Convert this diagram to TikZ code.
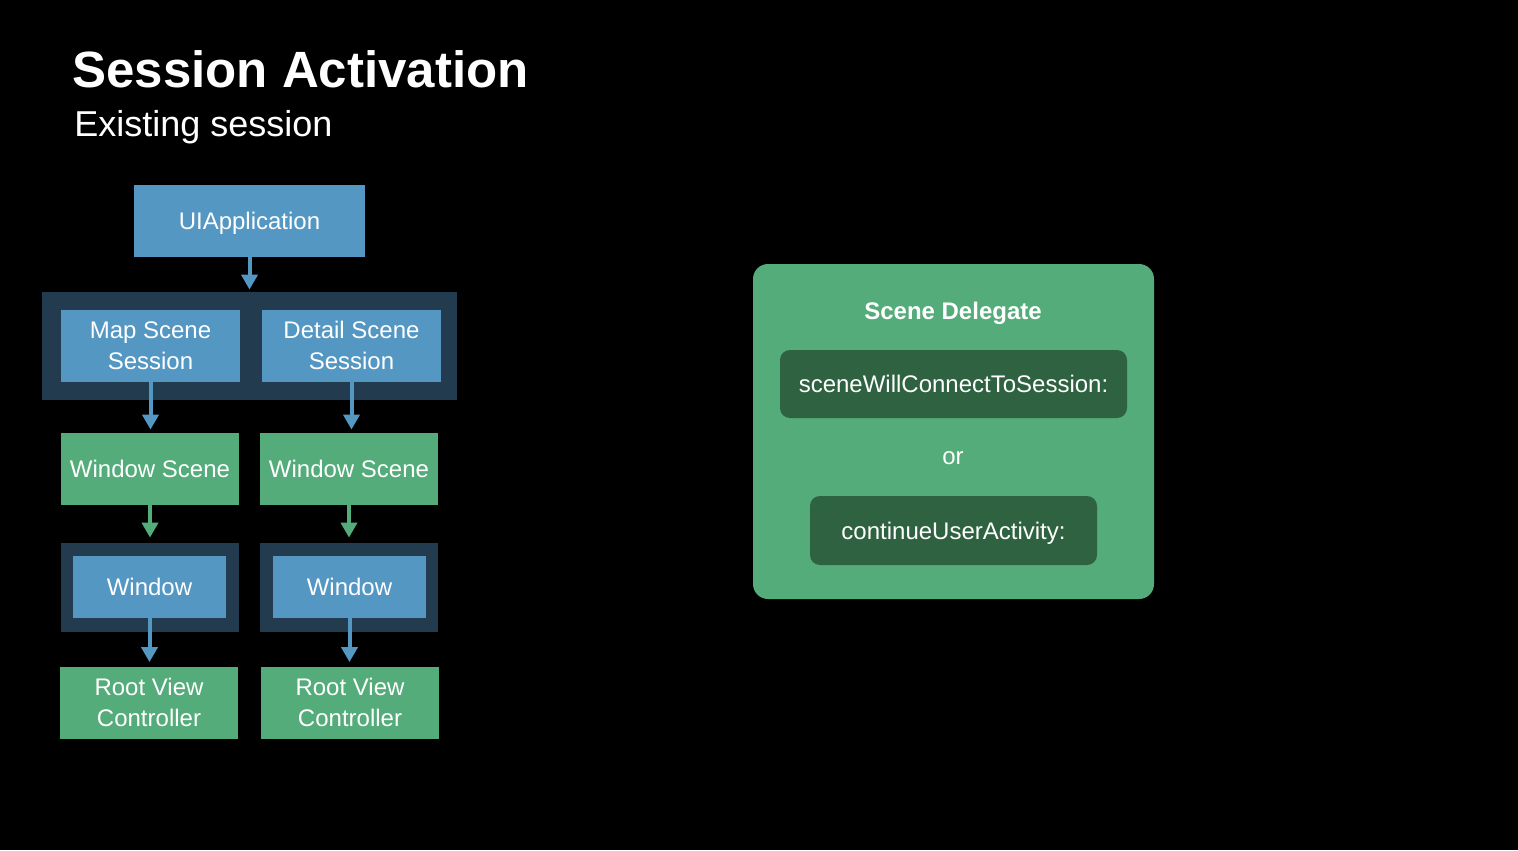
\documentclass[tikz,border=0pt]{standalone}
\usepackage{fontspec}
\setmainfont{Liberation Sans}
\usetikzlibrary{arrows.meta}
\definecolor{bgblack}{RGB}{0,0,0}
\definecolor{ablue}{RGB}{84,151,195}
\definecolor{agreen}{RGB}{84,172,122}
\definecolor{navy}{RGB}{35,59,79}
\definecolor{dgreen}{RGB}{46,98,64}
\tikzset{
  box/.style={inner sep=0pt, align=center, text=white, font=\fontsize{12}{15.5}\selectfont},
  oneline/.style={text height=8.6pt, text depth=0pt},
  bluebox/.style={box, fill=ablue},
  greenbox/.style={box, fill=agreen},
  navybox/.style={box, fill=navy},
  methodbox/.style={box, oneline, fill=dgreen, rounded corners=5pt},
  barrow/.style={draw=ablue, line width=2pt, -{Triangle[width=8pt,length=7.5pt]}},
  garrow/.style={draw=agreen, line width=2pt, -{Triangle[width=8pt,length=7.5pt]}},
}
\begin{document}
\begin{tikzpicture}[x=0.5pt,y=-0.5pt]
\fill[bgblack] (0,0) rectangle (1518,850);
\useasboundingbox (0,0) rectangle (1518,850);

\node[anchor=base west, text=white, inner sep=0pt, font=\fontsize{25.5}{30}\selectfont\bfseries] (title) at (72,88) {Session Activation};
\node[anchor=base west, text=white, inner sep=0pt, font=\fontsize{18}{22}\selectfont] (subtitle) at (74,137) {Existing session};

% left tree
\node[bluebox, oneline, minimum width=115.5pt, minimum height=36pt] (app) at (249.5,221) {UIApplication};
\node[navybox, minimum width=207.5pt, minimum height=54pt] (group) at (249.5,346) {};
\node[bluebox, minimum width=89.5pt, minimum height=36pt] (map) at (150.5,345.5) {Map Scene\\Session};
\node[bluebox, minimum width=89.5pt, minimum height=36pt] (detail) at (351.5,345.5) {Detail Scene\\Session};
\node[greenbox, oneline, minimum width=89pt, minimum height=36pt] (wsl) at (150,469) {Window Scene};
\node[greenbox, oneline, minimum width=89pt, minimum height=36pt] (wsr) at (349,469) {Window Scene};
\node[navybox, minimum width=89pt, minimum height=44.5pt] (wol) at (150,587.5) {};
\node[navybox, minimum width=89pt, minimum height=44.5pt] (wor) at (349,587.5) {};
\node[bluebox, oneline, minimum width=76.5pt, minimum height=31pt] (wil) at (149.5,587) {Window};
\node[bluebox, oneline, minimum width=76.5pt, minimum height=31pt] (wir) at (349.5,587) {Window};
\node[greenbox, minimum width=89pt, minimum height=36pt] (rvl) at (149,702.5) {Root View\\Controller};
\node[greenbox, minimum width=89pt, minimum height=36pt] (rvr) at (350,702.5) {Root View\\Controller};

\draw[barrow, shorten >=1pt] (app.south) -- (group.north);
\draw[barrow, shorten >=1.5pt] (map.south) -- (map.south |- wsl.north);
\draw[barrow, shorten >=1.5pt] (detail.south) -- (detail.south |- wsr.north);
\draw[garrow, shorten >=2.5pt] (wsl.south) -- (wsl.south |- wol.north);
\draw[garrow, shorten >=2.5pt] (wsr.south) -- (wsr.south |- wor.north);
\draw[barrow, shorten >=2pt] (wil.south) -- (wil.south |- rvl.north);
\draw[barrow, shorten >=2pt] (wir.south) -- (wir.south |- rvr.north);

% scene delegate
\node[box, fill=agreen, rounded corners=7.5pt, minimum width=200.5pt, minimum height=167.5pt] (deleg) at (953.5,431.5) {};
\node[box, oneline, font=\fontsize{12}{15}\selectfont\bfseries] (delegtitle) at (953,311) {Scene Delegate};
\node[methodbox, minimum width=173.5pt, minimum height=34pt] (m1) at (953.5,384) {sceneWillConnectToSession:};
\node[box, text height=6.2pt, text depth=0pt] (or) at (953,458) {or};
\node[methodbox, minimum width=143.5pt, minimum height=34.5pt] (m2) at (953.5,530.5) {continueUserActivity:};
\end{tikzpicture}
\end{document}
